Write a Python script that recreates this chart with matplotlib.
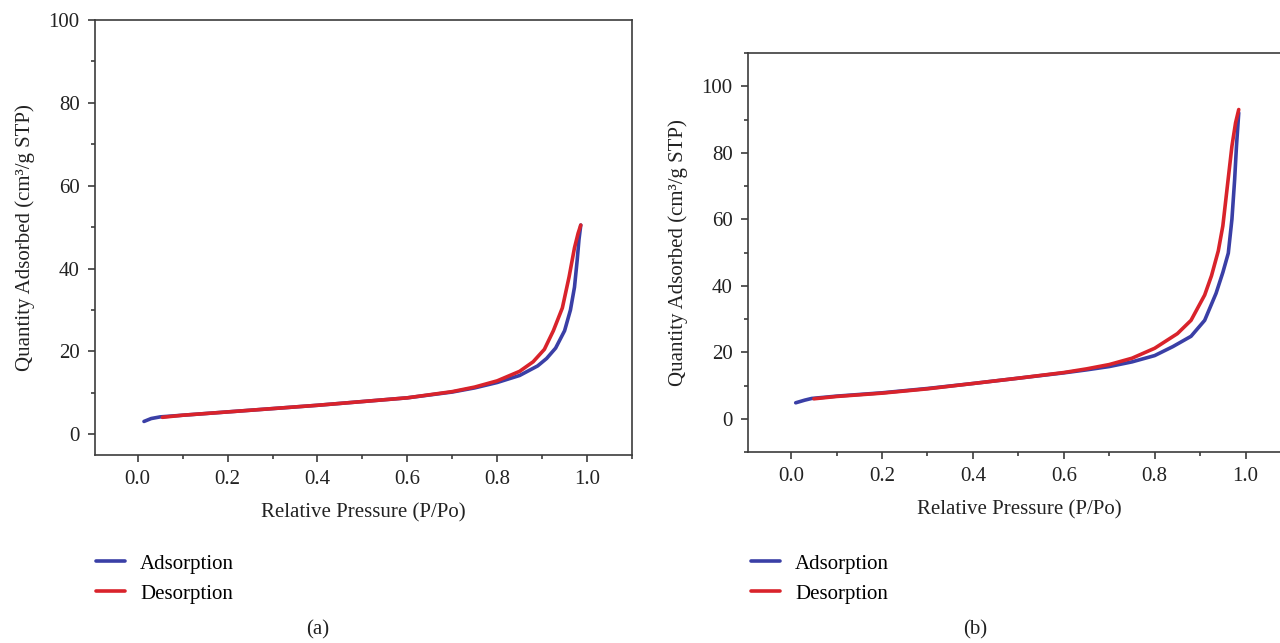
import matplotlib
matplotlib.use("Agg")
import matplotlib.pyplot as plt
from matplotlib.ticker import MultipleLocator

plt.rcParams['font.family'] = ['Liberation Serif', 'DejaVu Serif']
plt.rcParams['font.size'] = 15

# panel (a)
ads_a_x = [0.014, 0.03, 0.05, 0.1, 0.15, 0.2, 0.3, 0.4, 0.5, 0.6, 0.7, 0.75, 0.8,
           0.85, 0.89, 0.91, 0.93, 0.95, 0.963, 0.972, 0.978, 0.982, 0.986]
ads_a_y = [3.1, 3.8, 4.2, 4.6, 5.0, 5.4, 6.2, 7.0, 7.9, 8.8, 10.2, 11.2, 12.5,
           14.2, 16.5, 18.3, 20.8, 25.0, 30.0, 35.5, 42.0, 47.0, 50.5]
des_a_x = [0.055, 0.1, 0.2, 0.3, 0.4, 0.5, 0.6, 0.7, 0.75, 0.8, 0.85, 0.88, 0.905,
           0.925, 0.945, 0.96, 0.972, 0.98, 0.986]
des_a_y = [4.1, 4.6, 5.4, 6.2, 7.0, 7.9, 8.8, 10.3, 11.4, 12.9, 15.2, 17.5, 20.5,
           25.0, 30.5, 38.0, 45.0, 48.5, 50.5]

# panel (b)
ads_b_x = [0.01, 0.03, 0.045, 0.1, 0.2, 0.3, 0.4, 0.5, 0.6, 0.65, 0.7, 0.75, 0.8,
           0.84, 0.88, 0.91, 0.935, 0.95, 0.962, 0.97, 0.976, 0.98, 0.985]
ads_b_y = [4.8, 5.6, 6.1, 6.8, 7.8, 9.1, 10.6, 12.2, 13.8, 14.7, 15.7, 17.1, 19.0,
           21.7, 24.8, 29.6, 37.7, 44.0, 49.8, 60.0, 72.0, 82.0, 92.0]
des_b_x = [0.05, 0.1, 0.2, 0.3, 0.4, 0.5, 0.6, 0.65, 0.7, 0.75, 0.8, 0.85, 0.88,
           0.91, 0.925, 0.94, 0.95, 0.96, 0.97, 0.978, 0.985]
des_b_y = [6.0, 6.7, 7.7, 9.0, 10.6, 12.2, 13.9, 15.0, 16.3, 18.2, 21.2, 25.6, 29.6,
           37.2, 43.0, 50.5, 58.0, 70.0, 82.0, 89.0, 93.0]

labels = ['Adsorption', 'Desorption']
BLUE = '#3a3fa6'
RED = '#d9232b'
SPINE = '#3c3c3c'

W, H = 1280, 643
fig = plt.figure(figsize=(12.8, 6.43), dpi=100)


def px_box(l, t, r, b):
    return [l / W, 1 - b / H, (r - l) / W, (b - t) / H]


def setup(ax, ylim, yticks):
    ax.set_xlim(-0.095, 1.1)
    ax.set_ylim(*ylim)
    ax.set_xticks([0.0, 0.2, 0.4, 0.6, 0.8, 1.0])
    ax.set_xticklabels(['0.0', '0.2', '0.4', '0.6', '0.8', '1.0'])
    ax.xaxis.set_minor_locator(MultipleLocator(0.1))
    ax.set_yticks(yticks)
    ax.yaxis.set_minor_locator(MultipleLocator(10))
    for s in ax.spines.values():
        s.set_color(SPINE)
        s.set_linewidth(1.2)
    ax.tick_params(which='both', direction='out', color=SPINE, width=1.2,
                   top=False, right=False, labelcolor='#222222')
    ax.tick_params(which='major', length=5)
    ax.tick_params(which='minor', length=3)
    ax.tick_params(axis='x', pad=6)
    ax.tick_params(axis='y', pad=6)
    ax.set_xlabel('Relative Pressure (P/Po)', labelpad=10, color='#222222')
    ax.set_ylabel('Quantity Adsorbed (cm³/g STP)', labelpad=10, color='#222222')


def draw(ax, ax_x, ax_y, de_x, de_y, leg_x):
    l1, = ax.plot(ax_x, ax_y, color=BLUE, lw=2.6, solid_capstyle='round')
    l2, = ax.plot(de_x, de_y, color=RED, lw=2.6, solid_capstyle='round')
    ax.legend([l1, l2], labels, loc='upper left',
              bbox_to_anchor=(leg_x / W, 1 - 554 / H), bbox_transform=fig.transFigure,
              frameon=False, handlelength=1.4, handletextpad=0.72,
              labelspacing=0.5, borderaxespad=0, borderpad=0)


ax1 = fig.add_axes(px_box(95, 20, 632, 455))
setup(ax1, (-5, 100), [0, 20, 40, 60, 80, 100])
draw(ax1, ads_a_x, ads_a_y, des_a_x, des_a_y, 96)

ax2 = fig.add_axes(px_box(748, 53, 1291, 452))
setup(ax2, (-10, 110), [0, 20, 40, 60, 80, 100])
draw(ax2, ads_b_x, ads_b_y, des_b_x, des_b_y, 751)

fig.text(318 / W, 1 - 630 / H, '(a)', ha='center', va='center', color='#222222')
fig.text(975 / W, 1 - 630 / H, '(b)', ha='center', va='center', color='#222222')

fig.savefig('out.png', dpi=100)
